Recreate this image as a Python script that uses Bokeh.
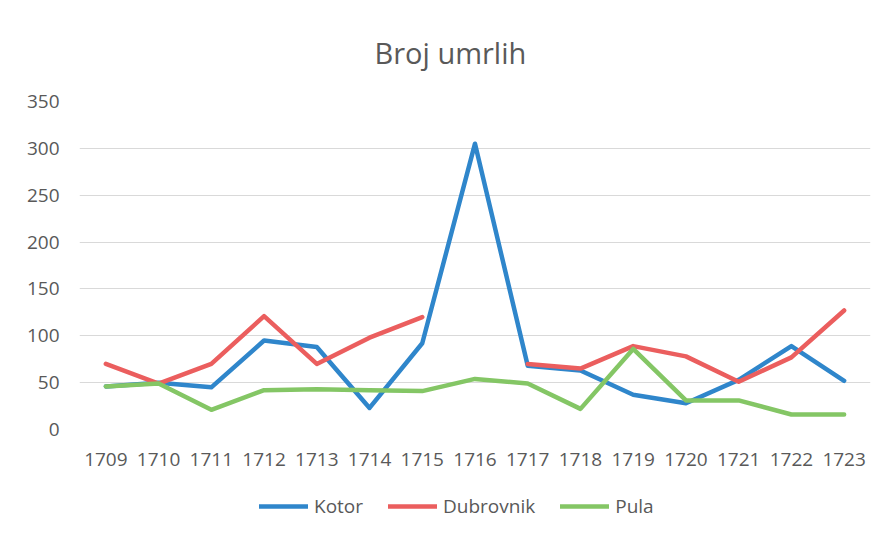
from bokeh.plotting import figure
from bokeh.layouts import column
from bokeh.models import ColumnDataSource, Legend, LegendItem, FactorRange, SingleIntervalTicker
from bokeh.embed import file_html
from bokeh.resources import INLINE
import numpy as np

years = ["1709", "1710", "1711", "1712", "1713", "1714", "1715", "1716",
         "1717", "1718", "1719", "1720", "1721", "1722", "1723"]
kotor = [46, 50, 45, 95, 88, 23, 92, 305, 68, 63, 37, 28, 53, 89, 52]
dubrovnik = [70, 49, 70, 121, 70, 98, 120, float("nan"), 70, 65, 89, 78, 51, 77, 127]
pula = [46, 49, 21, 42, 43, 42, 41, 54, 49, 22, 86, 31, 31, 16, 16]

series_names = ["Kotor", "Dubrovnik", "Pula"]
series_cols = ["kotor", "dubrovnik", "pula"]
colors = ["#2F86CB", "#EB5E5E", "#84C665"]
TEXT = "#595959"
FONT = "Open Sans"

src = ColumnDataSource(data=dict(year=years, kotor=np.array(kotor, dtype=float),
                                 dubrovnik=np.array(dubrovnik, dtype=float),
                                 pula=np.array(pula, dtype=float)))

p = figure(width=875, height=490, x_range=FactorRange(*years, range_padding=0),
           y_range=(0, 350), output_backend="svg", toolbar_location=None,
           min_border_left=79, min_border_right=5, min_border_top=101, min_border_bottom=61,
           title="Broj umrlih")
p.outline_line_color = None
p.background_fill_color = "white"
p.border_fill_color = "white"

p.title.align = "left"
p.title.offset = 295
p.title.text_font = FONT
p.title.text_font_size = "29px"
p.title.text_font_style = "normal"
p.title.text_color = TEXT
p.title.standoff = 60

for col, c in zip(series_cols, colors):
    p.line("year", col, source=src, line_color=c, line_width=4.5,
           line_join="round", line_cap="round")

p.yaxis.ticker = SingleIntervalTicker(interval=50)
p.ygrid.ticker = SingleIntervalTicker(interval=50)
p.xgrid.grid_line_color = None
p.ygrid.grid_line_color = "#d9d9d9"
p.ygrid.grid_line_width = 1

for ax in (p.xaxis[0], p.yaxis[0]):
    ax.axis_line_color = None
    ax.major_tick_line_color = None
    ax.minor_tick_line_color = None
    ax.major_label_text_font = FONT
    ax.major_label_text_font_size = "19px"
    ax.major_label_text_color = TEXT
p.yaxis.major_label_standoff = 14
p.xaxis.major_label_standoff = 17

# legend strip below the chart
lg = figure(width=875, height=48, x_range=(0, 1), y_range=(1000, 1001),
            output_backend="svg", toolbar_location=None,
            min_border_left=0, min_border_right=0, min_border_top=0, min_border_bottom=0)
lg.axis.visible = False
lg.grid.visible = False
lg.outline_line_color = None
lg.border_fill_color = "white"
idx = list(range(len(years)))
leg_renderers = []
for col, c in zip(series_cols, colors):
    r = lg.line(idx, src.data[col], line_color=c, line_width=4.5, line_cap="round")
    leg_renderers.append(r)

legend = Legend(items=[LegendItem(label=n, renderers=[r]) for n, r in zip(series_names, leg_renderers)],
                orientation="horizontal", location=(180, 19))
legend.label_text_font = FONT
legend.label_text_font_size = "19px"
legend.label_text_color = TEXT
legend.glyph_width = 49
legend.glyph_height = 20
legend.label_standoff = 6
legend.spacing = 25
legend.padding = 0
legend.margin = 0
legend.border_line_color = None
legend.background_fill_alpha = 0
lg.add_layout(legend, "center")

open("out.html", "w").write(file_html(column(p, lg, spacing=0), INLINE))
